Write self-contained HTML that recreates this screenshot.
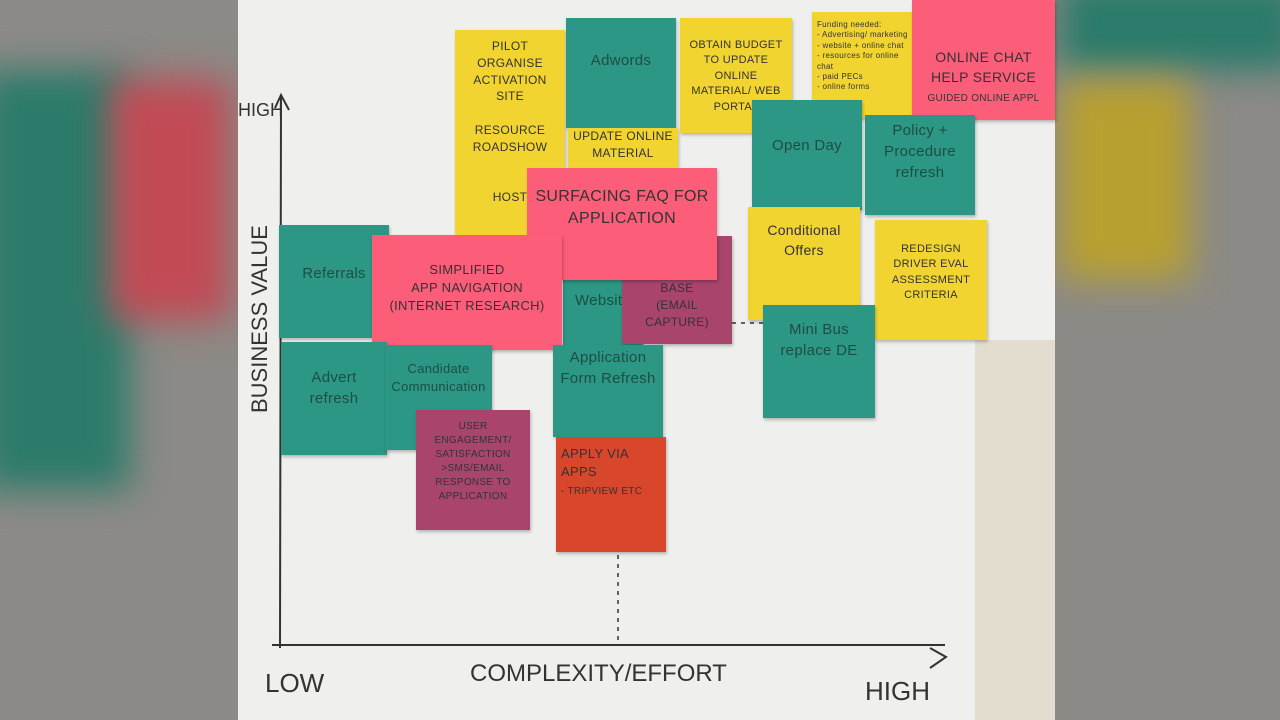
<!DOCTYPE html>
<html><head><meta charset="utf-8"><style>
body{margin:0;width:1280px;height:720px;overflow:hidden;background:#8c8a86;position:relative;font-family:"Liberation Sans",sans-serif}
.b{position:absolute;filter:blur(18px)}
.n{position:absolute;box-sizing:border-box;padding:8px 5px;text-align:center;font-size:12px;line-height:1.4;color:#333;text-transform:uppercase;letter-spacing:.3px;box-shadow:1px 2px 3px rgba(0,0,0,.25);overflow:hidden}
.y{background:#f2d431}.t{background:#2c9784;color:#1d4e44;text-transform:none;font-size:15px}.p{background:#fc5e7a}.u{background:#a9456c}.r{background:#d8472c}
.l{position:absolute;color:#333;font-size:26px}
</style></head><body>
<div class="b" style="left:-20px;top:70px;width:150px;height:420px;background:#2c7b6a"></div>
<div class="b" style="left:110px;top:80px;width:120px;height:240px;background:#c14a55"></div>
<div class="b" style="left:1060px;top:-20px;width:240px;height:90px;background:#2a7b6a"></div>
<div class="b" style="left:1060px;top:80px;width:130px;height:200px;background:#b8a030"></div>
<div style="position:absolute;left:238px;top:0;width:817px;height:720px;background:#e3ddd0"></div>
<div style="position:absolute;left:238px;top:0;width:737px;height:720px;background:#efefed"></div>
<div style="position:absolute;left:975px;top:0;width:80px;height:340px;background:#efefed"></div>
<svg style="position:absolute;left:0;top:0" width="1280" height="720">
<path d="M281 95 L280 648 M272 645 L945 645" stroke="#333" stroke-width="2" fill="none"/>
<path d="M275 108 L281 95 L289 110" stroke="#333" stroke-width="2" fill="none"/>
<path d="M930 648 L946 657 L930 668" stroke="#333" stroke-width="2" fill="none"/>
<path d="M618 555 L618 640 M732 323 L765 323" stroke="#333" stroke-width="1.5" stroke-dasharray="4 5"/>
</svg>
<div class="l" style="left:238px;top:100px;font-size:18px">HIGH</div>
<div class="l" style="left:200px;top:340px;transform:rotate(-90deg);font-size:22px;width:120px;white-space:nowrap">BUSINESS VALUE</div>
<div class="l" style="left:265px;top:668px">LOW</div>
<div class="l" style="left:470px;top:660px;font-size:24px">COMPLEXITY/EFFORT</div>
<div class="l" style="left:865px;top:676px">HIGH</div>

<div class="n y" style="left:455px;top:30px;width:110px;height:205px">Pilot<br>Organise activation site<br><br>Resource roadshow<br><br><br>Host</div>
<div class="n t" style="left:566px;top:18px;width:110px;height:110px;padding-top:32px">Adwords</div>
<div class="n y" style="left:568px;top:128px;width:110px;height:48px;padding-top:0">update online material</div>
<div class="n y" style="left:680px;top:18px;width:112px;height:115px;font-size:11px;padding-top:20px">Obtain budget to update online material/ web portal</div>
<div class="n y" style="left:812px;top:12px;width:110px;height:106px;font-size:8px;text-align:left;text-transform:none;line-height:1.3">Funding needed:<br>- Advertising/ marketing<br>- website + online chat<br>- resources for online chat<br>- paid PECs<br>- online forms</div>
<div class="n p" style="left:912px;top:0;width:143px;height:120px;padding-top:48px;font-size:14px">Online chat help service<br><span style="font-size:10px">guided online appl</span></div>
<div class="n t" style="left:752px;top:100px;width:110px;height:110px;padding-top:35px">Open Day</div>
<div class="n t" style="left:865px;top:115px;width:110px;height:100px;padding-top:5px">Policy + Procedure refresh</div>
<div class="n t" style="left:279px;top:225px;width:110px;height:113px;padding-top:38px">Referrals</div>
<div class="n t" style="left:563px;top:280px;width:80px;height:66px;padding-top:10px">Website</div>
<div class="n u" style="left:622px;top:236px;width:110px;height:108px;padding-top:44px">Base<br>(Email capture)</div>
<div class="n p" style="left:527px;top:168px;width:190px;height:112px;padding-top:18px;font-size:16px">Surfacing FAQ for application</div>
<div class="n p" style="left:372px;top:235px;width:190px;height:115px;padding-top:26px;font-size:13px">Simplified<br>App navigation<br>(internet research)</div>
<div class="n y" style="left:748px;top:207px;width:112px;height:113px;text-transform:none;font-size:14px;padding-top:14px">Conditional Offers</div>
<div class="n y" style="left:875px;top:220px;width:112px;height:120px;padding-top:22px;font-size:11px">Redesign driver eval assessment criteria</div>
<div class="n t" style="left:763px;top:305px;width:112px;height:113px;padding-top:14px">Mini Bus replace DE</div>
<div class="n t" style="left:281px;top:342px;width:106px;height:113px;padding-top:25px">Advert refresh</div>
<div class="n t" style="left:385px;top:345px;width:107px;height:105px;padding-top:15px;font-size:13px">Candidate Communication</div>
<div class="n t" style="left:553px;top:345px;width:110px;height:92px;padding-top:2px">Application Form Refresh</div>
<div class="n u" style="left:416px;top:410px;width:114px;height:120px;font-size:10px;padding-top:10px">User engagement/ satisfaction<br>&gt;SMS/Email response to application</div>
<div class="n r" style="left:556px;top:437px;width:110px;height:115px;text-align:left;font-size:13px">Apply via apps<br><span style="font-size:10px">- Tripview etc</span></div>
</body></html>
